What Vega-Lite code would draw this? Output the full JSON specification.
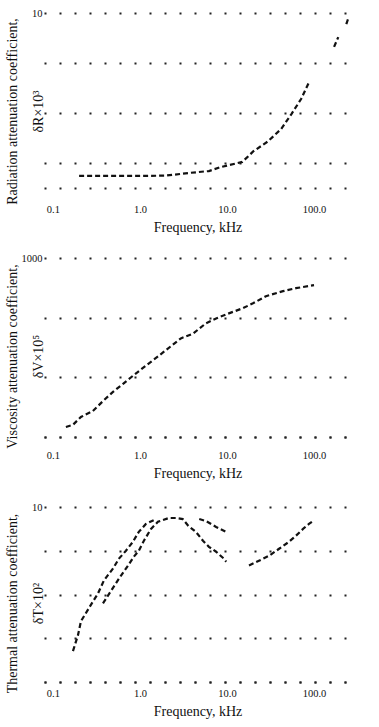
{
  "$schema": "https://vega.github.io/schema/vega-lite/v6.json",
  "background": "white",
  "padding": {"left": 4, "top": 8, "right": 2, "bottom": 5},
  "bounds": "flush",
  "spacing": 70,
  "config": {
    "view": {"stroke": null},
    "font": "Liberation Serif",
    "axis": {
      "labelFont": "Liberation Serif",
      "titleFont": "Liberation Serif",
      "labelColor": "#111",
      "titleColor": "#111",
      "ticks": false,
      "titleFontWeight": "normal",
      "labelFontSize": 10.5,
      "titleFontSize": 14
    },
    "axisX": {"domain": true, "domainDash": [2, 13], "domainWidth": 2, "domainColor": "#222", "grid": false, "titleFontSize": 14},
    "axisY": {"domain": false, "grid": true, "gridDash": [2, 13], "gridWidth": 2, "gridColor": "#222", "gridOpacity": 1}
  },
  "datasets": {
    "radiation": [
      {"s": "a", "f": 0.2, "v": 0.0055},
      {"s": "a", "f": 0.376, "v": 0.0055},
      {"s": "a", "f": 0.6, "v": 0.0055},
      {"s": "a", "f": 1.0, "v": 0.0055},
      {"s": "a", "f": 2.0, "v": 0.0056},
      {"s": "a", "f": 3.6, "v": 0.0063},
      {"s": "a", "f": 6.2, "v": 0.0069},
      {"s": "a", "f": 8.5, "v": 0.0083},
      {"s": "a", "f": 15, "v": 0.0105},
      {"s": "a", "f": 20, "v": 0.017},
      {"s": "a", "f": 29.5, "v": 0.027},
      {"s": "a", "f": 42, "v": 0.048},
      {"s": "a", "f": 55, "v": 0.095},
      {"s": "a", "f": 71, "v": 0.19},
      {"s": "a", "f": 88, "v": 0.42},
      {"s": "b", "f": 170, "v": 2.1},
      {"s": "b", "f": 190, "v": 3.3},
      {"s": "c", "f": 235, "v": 6.0},
      {"s": "c", "f": 246, "v": 7.6}
    ],
    "viscosity": [
      {"s": "a", "f": 0.141, "v": 1.47},
      {"s": "a", "f": 0.17, "v": 1.6},
      {"s": "a", "f": 0.21, "v": 2.17},
      {"s": "a", "f": 0.288, "v": 2.73},
      {"s": "a", "f": 0.376, "v": 4.0},
      {"s": "a", "f": 0.49, "v": 5.7},
      {"s": "a", "f": 0.64, "v": 7.8},
      {"s": "a", "f": 0.83, "v": 10.6},
      {"s": "a", "f": 1.17, "v": 15.7},
      {"s": "a", "f": 1.65, "v": 23},
      {"s": "a", "f": 2.95, "v": 45},
      {"s": "a", "f": 4.07, "v": 54},
      {"s": "a", "f": 5.7, "v": 80},
      {"s": "a", "f": 7.5, "v": 97},
      {"s": "a", "f": 10.5, "v": 118},
      {"s": "a", "f": 15.2, "v": 144},
      {"s": "a", "f": 19.9, "v": 174},
      {"s": "a", "f": 28, "v": 229},
      {"s": "a", "f": 44, "v": 278},
      {"s": "a", "f": 62, "v": 312},
      {"s": "a", "f": 100, "v": 351}
    ],
    "thermal": [
      {"s": "a", "f": 0.17, "v": 0.0051},
      {"s": "a", "f": 0.194, "v": 0.0117},
      {"s": "a", "f": 0.21, "v": 0.0245},
      {"s": "a", "f": 0.288, "v": 0.069},
      {"s": "a", "f": 0.329, "v": 0.105},
      {"s": "a", "f": 0.385, "v": 0.208},
      {"s": "a", "f": 0.489, "v": 0.39},
      {"s": "a", "f": 0.574, "v": 0.66},
      {"s": "a", "f": 0.69, "v": 1.0},
      {"s": "a", "f": 0.83, "v": 1.6},
      {"s": "a", "f": 0.97, "v": 2.7},
      {"s": "a", "f": 1.17, "v": 4.1},
      {"s": "a", "f": 1.53, "v": 5.3},
      {"s": "b", "f": 0.376, "v": 0.063},
      {"s": "b", "f": 0.574, "v": 0.23},
      {"s": "b", "f": 0.73, "v": 0.46},
      {"s": "b", "f": 0.85, "v": 0.73},
      {"s": "b", "f": 0.97, "v": 1.0},
      {"s": "b", "f": 1.11, "v": 1.69},
      {"s": "b", "f": 1.34, "v": 3.16},
      {"s": "b", "f": 1.61, "v": 4.6},
      {"s": "b", "f": 2.15, "v": 5.6},
      {"s": "b", "f": 2.59, "v": 5.6},
      {"s": "b", "f": 3.1, "v": 5.3},
      {"s": "b", "f": 3.6, "v": 3.7},
      {"s": "b", "f": 4.4, "v": 2.7},
      {"s": "b", "f": 5.3, "v": 1.69},
      {"s": "b", "f": 6.2, "v": 1.23},
      {"s": "b", "f": 7.5, "v": 0.95},
      {"s": "b", "f": 9.2, "v": 0.66},
      {"s": "b", "f": 9.8, "v": 0.56},
      {"s": "c", "f": 4.8, "v": 5.3},
      {"s": "c", "f": 5.7, "v": 4.8},
      {"s": "c", "f": 7.5, "v": 3.5},
      {"s": "c", "f": 9.8, "v": 2.7},
      {"s": "d", "f": 17.9, "v": 0.46},
      {"s": "d", "f": 23.3, "v": 0.59},
      {"s": "d", "f": 30.5, "v": 0.77},
      {"s": "d", "f": 39.7, "v": 1.11},
      {"s": "d", "f": 51.5, "v": 1.6},
      {"s": "d", "f": 62, "v": 2.2},
      {"s": "d", "f": 76.6, "v": 3.3},
      {"s": "d", "f": 87.5, "v": 4.1},
      {"s": "d", "f": 95, "v": 4.6}
    ]
  },
  "vconcat": [
    {
      "width": 307,
      "height": 175,
      "data": {"name": "radiation"},
      "mark": {"type": "line", "color": "#111", "strokeWidth": 2.2, "strokeDash": [5, 3]},
      "encoding": {
        "x": {"field": "f", "type": "quantitative",
          "scale": {"type": "log", "domain": [0.079, 266], "nice": false},
          "axis": {"values": [0.1, 1, 10, 100], "format": ".1f", "title": "Frequency, kHz", "labelPadding": 16, "titlePadding": 6}},
        "y": {"field": "v", "type": "quantitative",
          "scale": {"type": "log", "domain": [0.00316, 10], "nice": false},
          "axis": {"values": [0.01, 0.1, 1, 10], "labelExpr": "datum.value == 10 ? '10' : ''",
            "title": ["Radiation attenuation coefficient,", "δR×10³"], "titleLineHeight": 26, "titleX": -25, "titleY": 98}},
        "detail": {"field": "s"}
      }
    },
    {
      "width": 307,
      "height": 179,
      "data": {"name": "viscosity"},
      "mark": {"type": "line", "color": "#111", "strokeWidth": 2.2, "strokeDash": [5, 3]},
      "encoding": {
        "x": {"field": "f", "type": "quantitative",
          "scale": {"type": "log", "domain": [0.079, 266], "nice": false},
          "axis": {"values": [0.1, 1, 10, 100], "format": ".1f", "title": "Frequency, kHz", "labelPadding": 13, "titlePadding": 6}},
        "y": {"field": "v", "type": "quantitative",
          "scale": {"type": "log", "domain": [1, 1000], "nice": false},
          "axis": {"values": [1, 10, 100, 1000], "labelExpr": "datum.value == 1000 ? '1000' : ''",
            "title": ["Viscosity attenuation coefficient,", "δV×10⁵"], "titleLineHeight": 26, "titleX": -25, "titleY": 98}},
        "detail": {"field": "s"}
      }
    },
    {
      "width": 307,
      "height": 175,
      "data": {"name": "thermal"},
      "mark": {"type": "line", "color": "#111", "strokeWidth": 2.2, "strokeDash": [5, 3]},
      "encoding": {
        "x": {"field": "f", "type": "quantitative",
          "scale": {"type": "log", "domain": [0.079, 266], "nice": false},
          "axis": {"values": [0.1, 1, 10, 100], "format": ".1f", "title": "Frequency, kHz", "labelPadding": 6, "titlePadding": 6}},
        "y": {"field": "v", "type": "quantitative",
          "scale": {"type": "log", "domain": [0.001, 10], "nice": false},
          "axis": {"values": [0.001, 0.01, 0.1, 1, 10], "labelExpr": "datum.value == 10 ? '10' : ''",
            "title": ["Thermal attenuation coefficient,", "δT×10²"], "titleLineHeight": 26, "titleX": -25, "titleY": 96}},
        "detail": {"field": "s"}
      }
    }
  ]
}
